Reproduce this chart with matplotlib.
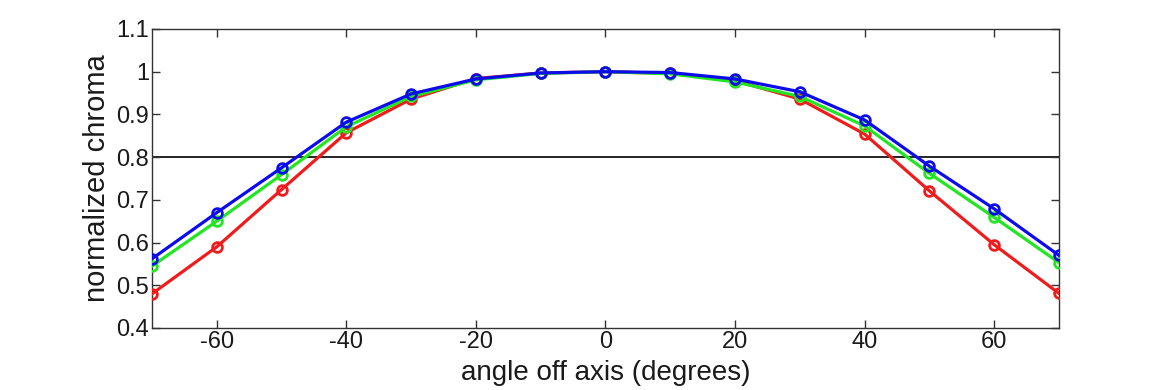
import matplotlib
matplotlib.use("Agg")
import matplotlib.pyplot as plt

angles = [-70, -60, -50, -40, -30, -20, -10, 0, 10, 20, 30, 40, 50, 60, 70]
red = [0.480, 0.590, 0.724, 0.857, 0.936, 0.984, 0.997, 1.0, 0.996, 0.979, 0.936, 0.854, 0.721, 0.595, 0.481]
green = [0.545, 0.650, 0.759, 0.871, 0.942, 0.981, 0.996, 1.0, 0.995, 0.976, 0.942, 0.873, 0.762, 0.659, 0.553]
blue = [0.562, 0.670, 0.775, 0.882, 0.948, 0.983, 0.997, 1.0, 0.998, 0.983, 0.953, 0.887, 0.779, 0.679, 0.570]

xticks = [-60, -40, -20, 0, 20, 40, 60]
yticks = [0.4, 0.5, 0.6, 0.7, 0.8, 0.9, 1.0, 1.1]
ytick_labels = ["0.4", "0.5", "0.6", "0.7", "0.8", "0.9", "1", "1.1"]

plt.rcParams['font.family'] = ['Liberation Sans', 'DejaVu Sans']

fig = plt.figure(figsize=(11.7, 3.9), dpi=100)
ax = fig.add_axes([0.1299, 0.159, 0.7752, 0.7667])

ax.axhline(0.8, color='black', linewidth=1.2, zorder=1)

for vals, col in [(red, '#f01c1c'), (green, '#22e622'), (blue, '#0c0ceb')]:
    ax.plot(angles, vals, color=col, linewidth=2.3, marker='o', markersize=7,
            markerfacecolor='none', markeredgewidth=2, zorder=3)

ax.set_xlim(-70, 70)
ax.set_ylim(0.4, 1.1)
ax.set_xticks(xticks)
ax.set_xticklabels([str(t) for t in xticks])
ax.set_yticks(yticks)
ax.set_yticklabels(ytick_labels)
ax.tick_params(direction='in', top=True, right=True, labelsize=17, length=6,
               width=1, color='#333333', labelcolor='#1a1a1a', pad=2)
for s in ax.spines.values():
    s.set_color('#333333')
    s.set_linewidth(1)

ax.set_xlabel('angle off axis (degrees)', fontsize=20, labelpad=5, color='#1a1a1a')
ax.set_ylabel('normalized chroma', fontsize=21, labelpad=4, color='#1a1a1a')

fig.savefig('out.png', dpi=100)
